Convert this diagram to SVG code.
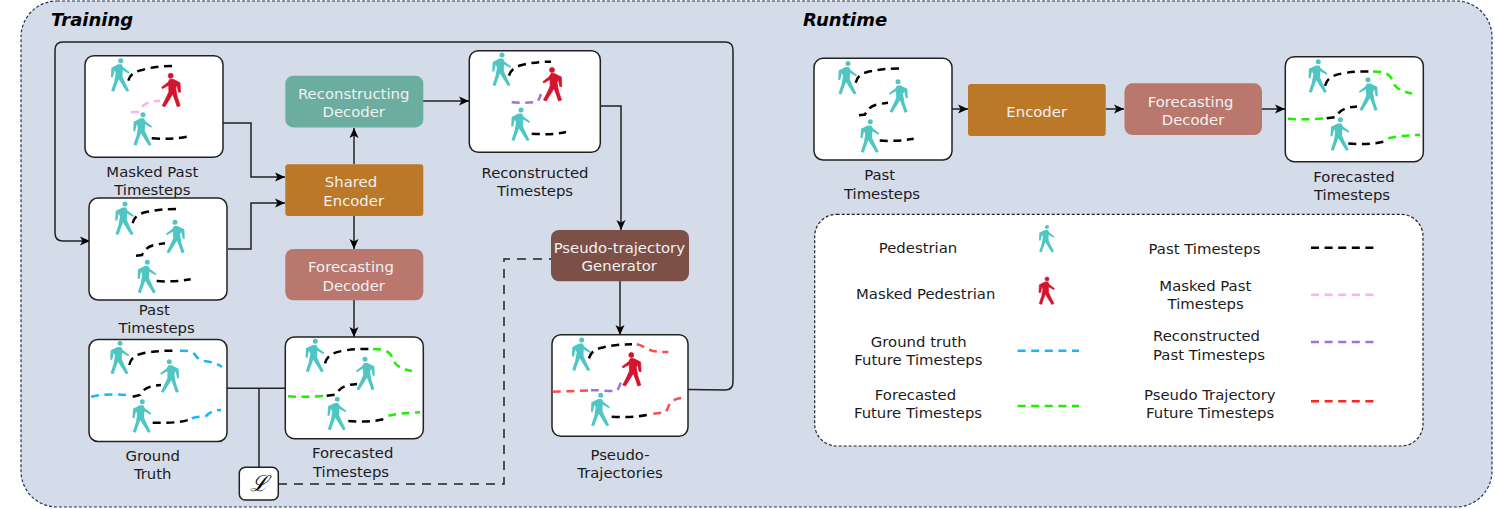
<svg xmlns="http://www.w3.org/2000/svg" xmlns:xlink="http://www.w3.org/1999/xlink" width="1495" height="509" viewBox="0 0 1495 509">
<style>
text{font-family:"DejaVu Sans",sans-serif;font-size:14.85px;fill:#1c1c1c;text-anchor:middle}
.w{fill:#f1f1f1}
.title{font-weight:bold;font-style:italic;font-size:18px;text-anchor:start;fill:#000}
.box{fill:#fff;stroke:#222;stroke-width:1.5}
.t{fill:#4fc6c4}
.r{fill:#d2142e;stroke:#d2142e;stroke-width:.7}
.tr{fill:none;stroke-width:2.5;stroke-dasharray:8 5.6}
.k{stroke:#000}.p{stroke:#ffb0ef}.b{stroke:#1cb4fb}.g{stroke:#1ff000}.e{stroke:#ff4c4c}.v{stroke:#a070dc}
.c{fill:none;stroke:#222;stroke-width:1.5}
.a{marker-end:url(#arr)}
.d{stroke-dasharray:9 7}
.n{stroke:none}
</style>
<defs>
<marker id="arr" markerUnits="userSpaceOnUse" markerWidth="12" markerHeight="10" refX="10" refY="5" orient="auto"><path d="M0,0.500L10,5L0,9.500L2.500,5z" fill="#000"/></marker>
<path id="ped" d="M-2.500,3.600L1,3.600L2.500,6.500L9,11.500L8.300,13L2,9.500L1.800,16L4.500,22L8.500,30L5.800,31L0.500,22.500L-2,18.500L-4.500,25L-6.500,31L-9.500,30L-6.500,21L-5,12.500L-6.300,9.500L-7.800,16.500L-9.800,16.500L-9.300,7zM2.500,0A2.500,2.500 0 1 1-2.500,0A2.500,2.500 0 1 1 2.500,0z"/>
<g id="past-scene">
<use href="#ped" class="t" transform="translate(125,204)"/>
<use href="#ped" class="t" transform="translate(175,222.300) scale(-1,1)"/>
<use href="#ped" class="t" transform="translate(147.300,262.300)"/>
<path class="tr k" d="M132.700,223.300C134,217 138,214 146,212C156,210 165,209 176,209"/>
<path class="tr k" d="M136,255.700L142,255C146,247 150,245 165,243.300"/>
<path class="tr k" d="M156.700,281C170,282 180,281 190.700,279.300"/>
</g>
<g id="fc-peds">
<use href="#ped" class="t" transform="translate(315.300,341.300)"/>
<use href="#ped" class="t" transform="translate(365,359.300) scale(-1,1)"/>
<use href="#ped" class="t" transform="translate(337.300,399.300)"/>
</g>
<g id="fc-lines">
<path class="tr k" d="M325,363.300C327,356 332,353 342,351C352,349 360,349 369,349"/>
<path class="tr g" d="M373,349C382,349 387,350 391,355C394,363 396,368 412,371"/>
<path class="tr k" d="M326.700,395.700L336,394.500C340,387 345,385 357,384"/>
<path class="tr g" d="M288,396.300C300,397 312,397 326,395.700"/>
<path class="tr k" d="M348.300,421C360,422 372,422 383.300,419.300"/>
<path class="tr g" d="M388.300,415.700C398,413.500 408,413 420,412.300"/>
</g>
</defs>
<rect x="21" y="1" width="1471" height="506" rx="36" fill="#d4dbe9" stroke="#1d3557" stroke-width="1.200" stroke-dasharray="3 2"/>
<text class="title" x="51" y="26">Training</text>
<text class="title" x="803" y="26">Runtime</text>

<g id="connectors">
<path class="c a" d="M688,389.500L725,390Q733,390 733,382L733,50Q733,42 725,42L63,42Q55,42 55,50L55,233Q55,241 63,241L90,241"/>
<path class="c a" d="M223,123H251V177H285"/>
<path class="c a" d="M228,249H251V203H285"/>
<path class="c a" d="M354,164V128"/>
<path class="c a" d="M354,216V249"/>
<path class="c a" d="M354,300V337"/>
<path class="c a" d="M423,101H469"/>
<path class="c a" d="M600,106H621V230"/>
<path class="c a" d="M620,281V335"/>
<path class="c" d="M227,388.300H285M259,388.300V467"/>
<path class="c d" d="M278,484H504V259H551"/>
<path class="c a" d="M952,109H968"/>
<path class="c a" d="M1106,109H1124"/>
<path class="c a" d="M1262,109H1285"/>
</g>

<g id="masked-past">
<rect class="box" x="85" y="55.700" width="138" height="101.500" rx="9"/>
<use href="#ped" class="t" transform="translate(120.700,60.700)"/>
<use href="#ped" class="r" transform="translate(170.700,75.700) scale(-1,1)"/>
<use href="#ped" class="t" transform="translate(143,114.700)"/>
<path class="tr k" d="M128.300,80.700C130,75 133,72 142,70C152,67 162,66 172,66"/>
<path class="tr p" d="M131,112.300L138.500,111.700C142,105 147,101 160,100.700"/>
<path class="tr k" d="M151.700,138.300C165,139 176,139 186.700,136.700"/>
<text x="152.300" y="176.700">Masked Past</text>
<text x="152.300" y="195">Timesteps</text>
</g>
<g id="past">
<rect class="box" x="89" y="198" width="138" height="102" rx="9"/>
<use href="#past-scene"/>
<text x="154.300" y="315">Past</text>
<text x="156.700" y="333.300">Timesteps</text>
</g>
<g id="ground-truth">
<rect class="box" x="89" y="339.500" width="138" height="102" rx="9"/>
<use href="#ped" class="t" transform="translate(120,343.300)"/>
<use href="#ped" class="t" transform="translate(169.300,361.700) scale(-1,1)"/>
<use href="#ped" class="t" transform="translate(142.300,401.700)"/>
<path class="tr k" d="M129.300,365C131,358 135,355 144,353C155,351 164,350.700 174,350.700"/>
<path class="tr b" d="M180,350.700C188,350.500 193,351 196,356C199,361 205,361 210,362C215,363 219,365 222,367"/>
<path class="tr k" d="M132.700,396.700L140,395C144,388 149,386 161,385"/>
<path class="tr b" d="M91,396.700C102,394 115,394 127,395"/>
<path class="tr k" d="M152.700,422.700C165,423 178,423 188,420"/>
<path class="tr b" d="M191.700,418.300C198,416 203,417 206,416C210,412 215,410 221,410"/>
<text x="152.700" y="461">Ground</text>
<text x="152.700" y="479">Truth</text>
</g>
<g id="forecasted">
<rect class="box" x="285.300" y="337" width="138" height="101.700" rx="9"/>
<use href="#fc-peds"/>
<use href="#fc-lines"/>
<text x="352.700" y="458.300">Forecasted</text>
<text x="351" y="477">Timesteps</text>
</g>
<g id="loss">
<rect class="box" x="239.300" y="467.300" width="39" height="32.700" rx="6"/>
<text x="258.800" y="491" style="font-size:22px;font-style:italic;font-family:'DejaVu Serif',serif;fill:#000">ℒ</text>
</g>
<g id="reconstructing-decoder">
<rect class="n" x="285.300" y="75.700" width="138" height="51.700" rx="8" fill="#6bae9f"/>
<text class="w" x="353.700" y="99">Reconstructing</text>
<text class="w" x="353.700" y="117.300">Decoder</text>
</g>
<g id="shared-encoder">
<rect class="n" x="285.300" y="164.300" width="138" height="51.700" rx="3" fill="#bb7829"/>
<text class="w" x="351" y="187.300">Shared</text>
<text class="w" x="353.700" y="205.700">Encoder</text>
</g>
<g id="forecasting-decoder">
<rect class="n" x="285.300" y="249" width="138" height="51.300" rx="8" fill="#b9776d"/>
<text class="w" x="351" y="272.300">Forecasting</text>
<text class="w" x="353.700" y="290.700">Decoder</text>
</g>
<g id="reconstructed">
<rect class="box" x="469.300" y="50.700" width="131" height="101.600" rx="9"/>
<use href="#ped" class="t" transform="translate(502,55)"/>
<use href="#ped" class="r" transform="translate(552,70) scale(-1,1)"/>
<use href="#ped" class="t" transform="translate(521,110)"/>
<path class="tr k" d="M509,75.700C511,70 514,67 522,65C532,62.500 541,61.700 551,61.700"/>
<path class="tr v" d="M511.700,102.300C520,103 527,103 537,102C539,100 540,97 541,94"/>
<path class="tr k" d="M531.700,133.700C544,134.500 556,134.500 566,132"/>
<text x="535" y="178.300">Reconstructed</text>
<text x="535" y="196">Timesteps</text>
</g>
<g id="generator">
<rect class="n" x="551" y="230" width="138" height="51.300" rx="8" fill="#7c5047"/>
<text class="w" x="619.300" y="252.700">Pseudo-trajectory</text>
<text class="w" x="619.300" y="271">Generator</text>
</g>
<g id="pseudo">
<rect class="box" x="552" y="334.700" width="136" height="101.600" rx="9"/>
<use href="#ped" class="t" transform="translate(581.700,340)"/>
<use href="#ped" class="r" transform="translate(631.300,355) scale(-1,1)"/>
<use href="#ped" class="t" transform="translate(600.700,395.300)"/>
<path class="tr k" d="M589,358.300C591,352 595,349 603,347.500C612,345 622,344.300 632,344.300"/>
<path class="tr e" d="M636.700,344.300C642,345 645,348 650,350C655,352 661,352 668.300,352"/>
<path class="tr e" d="M552.700,391.700C565,391.500 578,391 590,390.300"/>
<path class="tr v" d="M591,390.300C598,390 605,391 617,391C619,388 620,385 621,381.700"/>
<path class="tr k" d="M611.700,416.700C624,417.500 636,417 647,415"/>
<path class="tr e" d="M653.300,413.700L666,412C669,406 670,401 674,400C677,398.500 680,398 684,397.700"/>
<text x="620" y="460">Pseudo-</text>
<text x="620" y="477.700">Trajectories</text>
</g>

<g id="rt-past">
<rect class="box" x="814" y="58.300" width="138" height="101.700" rx="9"/>
<use href="#past-scene" transform="translate(723,-140.500)"/>
<text x="879.600" y="180">Past</text>
<text x="882" y="198.700">Timesteps</text>
</g>
<g id="rt-encoder">
<rect class="n" x="968" y="84" width="137.700" height="52" rx="3" fill="#bb7829"/>
<text class="w" x="1036.700" y="116.700">Encoder</text>
</g>
<g id="rt-decoder">
<rect class="n" x="1124.500" y="83.300" width="137.500" height="51.700" rx="8" fill="#b9776d"/>
<text class="w" x="1190.600" y="106.700">Forecasting</text>
<text class="w" x="1193" y="125">Decoder</text>
</g>
<g id="rt-forecasted">
<rect class="box" x="1285.300" y="56.700" width="138" height="105" rx="9"/>
<use href="#fc-peds" transform="translate(1003,-279.500)"/>
<use href="#fc-lines" transform="translate(1000,-277.500)"/>
<text x="1354" y="182">Forecasted</text>
<text x="1352" y="200">Timesteps</text>
</g>

<g id="legend">
<rect x="814.700" y="214.300" width="608.300" height="231.700" rx="22" fill="#fff" stroke="#222" stroke-width="1.200" stroke-dasharray="3 2"/>
<text x="918" y="252.700">Pedestrian</text>
<use href="#ped" class="t" transform="translate(1047,227) scale(.82)"/>
<text x="925.700" y="298.700">Masked Pedestrian</text>
<use href="#ped" class="r" transform="translate(1047,279) scale(.82)"/>
<text x="918.800" y="346.700">Ground truth</text>
<text x="918.400" y="365.300">Future Timesteps</text>
<path class="tr b" d="M1017.600,350.700H1079"/>
<text x="915.500" y="400">Forecasted</text>
<text x="918" y="418.300">Future Timesteps</text>
<path class="tr g" d="M1017.600,406H1079"/>
<text x="1204.500" y="253.700">Past Timesteps</text>
<path class="tr k" d="M1311,247.700H1373.500"/>
<text x="1205.300" y="291">Masked Past</text>
<text x="1205.700" y="309.300">Timesteps</text>
<path class="tr p" d="M1311,294.700H1373.500"/>
<text x="1206.500" y="341.300">Reconstructed</text>
<text x="1209" y="359.700">Past Timesteps</text>
<path class="tr v" d="M1311,342H1373.500"/>
<text x="1209.800" y="400">Pseudo Trajectory</text>
<text x="1210.200" y="418.300">Future Timesteps</text>
<path class="tr" style="stroke:#ff2424" d="M1311,401.300H1373.500"/>
</g>
</svg>
